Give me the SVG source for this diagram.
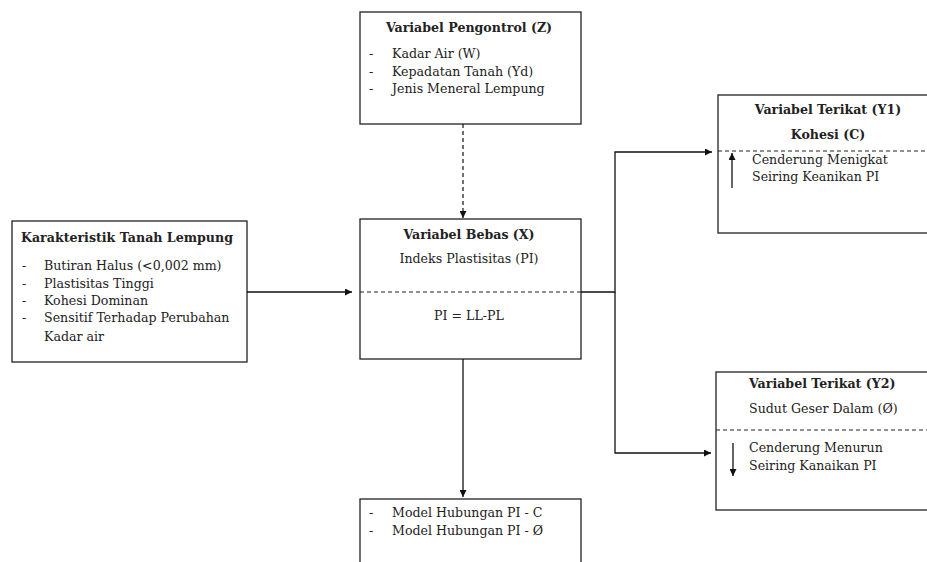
<svg xmlns="http://www.w3.org/2000/svg" width="927" height="562" viewBox="0 0 927 562">
<style>
text{font-family:"DejaVu Serif","Liberation Serif",serif;font-size:12.6px;fill:#222}
.b{font-weight:bold}
.c{text-anchor:middle}
.box{fill:#fff;stroke:#222;stroke-width:1.3}
.dash{stroke:#222;stroke-width:1.2;stroke-dasharray:4 3;fill:none}
.ln{stroke:#111;stroke-width:1.3;fill:none}
</style>
<defs>
<marker id="ah" viewBox="0 0 10 10" refX="10" refY="5" markerWidth="7" markerHeight="7" markerUnits="userSpaceOnUse" orient="auto">
<path d="M0,0L10,5L0,10z" fill="#111"/>
</marker>
</defs>
<rect width="927" height="562" fill="#fff"/>

<g id="pengontrol">
<rect class="box" x="360" y="12" width="221" height="112"/>
<text class="b c" x="469" y="32">Variabel Pengontrol (Z)</text>
<text x="369" y="58">-</text><text x="392" y="58">Kadar Air (W)</text>
<text x="369" y="76">-</text><text x="392" y="76">Kepadatan Tanah (Yd)</text>
<text x="369" y="93">-</text><text x="392" y="93">Jenis Meneral Lempung</text>
</g>

<g id="karakteristik">
<rect class="box" x="12" y="221" width="235" height="141"/>
<text class="b" x="21" y="242">Karakteristik Tanah Lempung</text>
<text x="22" y="270">-</text><text x="44" y="270">Butiran Halus (&lt;0,002 mm)</text>
<text x="22" y="288">-</text><text x="44" y="288">Plastisitas Tinggi</text>
<text x="22" y="305">-</text><text x="44" y="305">Kohesi Dominan</text>
<text x="22" y="322">-</text><text x="44" y="322">Sensitif Terhadap Perubahan</text>
<text x="44" y="341">Kadar air</text>
</g>

<g id="bebas">
<rect class="box" x="360" y="219" width="221" height="140"/>
<text class="b c" x="469" y="239">Variabel Bebas (X)</text>
<text class="c" x="469" y="263">Indeks Plastisitas (PI)</text>
<line class="dash" x1="360" y1="292" x2="581" y2="292"/>
<text class="c" x="469" y="320">PI = LL-PL</text>
</g>

<g id="y1">
<rect class="box" x="718" y="95" width="220" height="138"/>
<text class="b c" x="828" y="114">Variabel Terikat (Y1)</text>
<text class="b c" x="828" y="139">Kohesi (C)</text>
<line class="dash" x1="718" y1="151" x2="927" y2="151"/>
<line class="ln" x1="732" y1="188" x2="732" y2="153" marker-end="url(#ah)"/>
<text x="752" y="164">Cenderung Menigkat</text>
<text x="752" y="181">Seiring Keanikan PI</text>
</g>

<g id="y2">
<rect class="box" x="716" y="372" width="222" height="138"/>
<text class="b" x="749" y="388">Variabel Terikat (Y2)</text>
<text x="749" y="413">Sudut Geser Dalam (Ø)</text>
<line class="dash" x1="716" y1="430" x2="927" y2="430"/>
<line class="ln" x1="733" y1="443" x2="733" y2="476" marker-end="url(#ah)"/>
<text x="749" y="452">Cenderung Menurun</text>
<text x="749" y="470">Seiring Kanaikan PI</text>
</g>

<g id="model">
<rect class="box" x="360" y="499" width="221" height="80"/>
<text x="369" y="517">-</text><text x="392" y="517">Model Hubungan PI - C</text>
<text x="369" y="535">-</text><text x="392" y="535">Model Hubungan PI - Ø</text>
</g>

<g id="connectors">
<line class="dash" x1="463" y1="124" x2="463" y2="218" style="stroke:#111" marker-end="url(#ah)"/>
<line class="ln" x1="247" y1="292" x2="352" y2="292" marker-end="url(#ah)"/>
<polyline class="ln" points="581,292 615,292 615,152 712,152" marker-end="url(#ah)"/>
<polyline class="ln" points="615,292 615,453 711,453" marker-end="url(#ah)"/>
<line class="ln" x1="463" y1="359" x2="463" y2="497" marker-end="url(#ah)"/>
</g>
</svg>
